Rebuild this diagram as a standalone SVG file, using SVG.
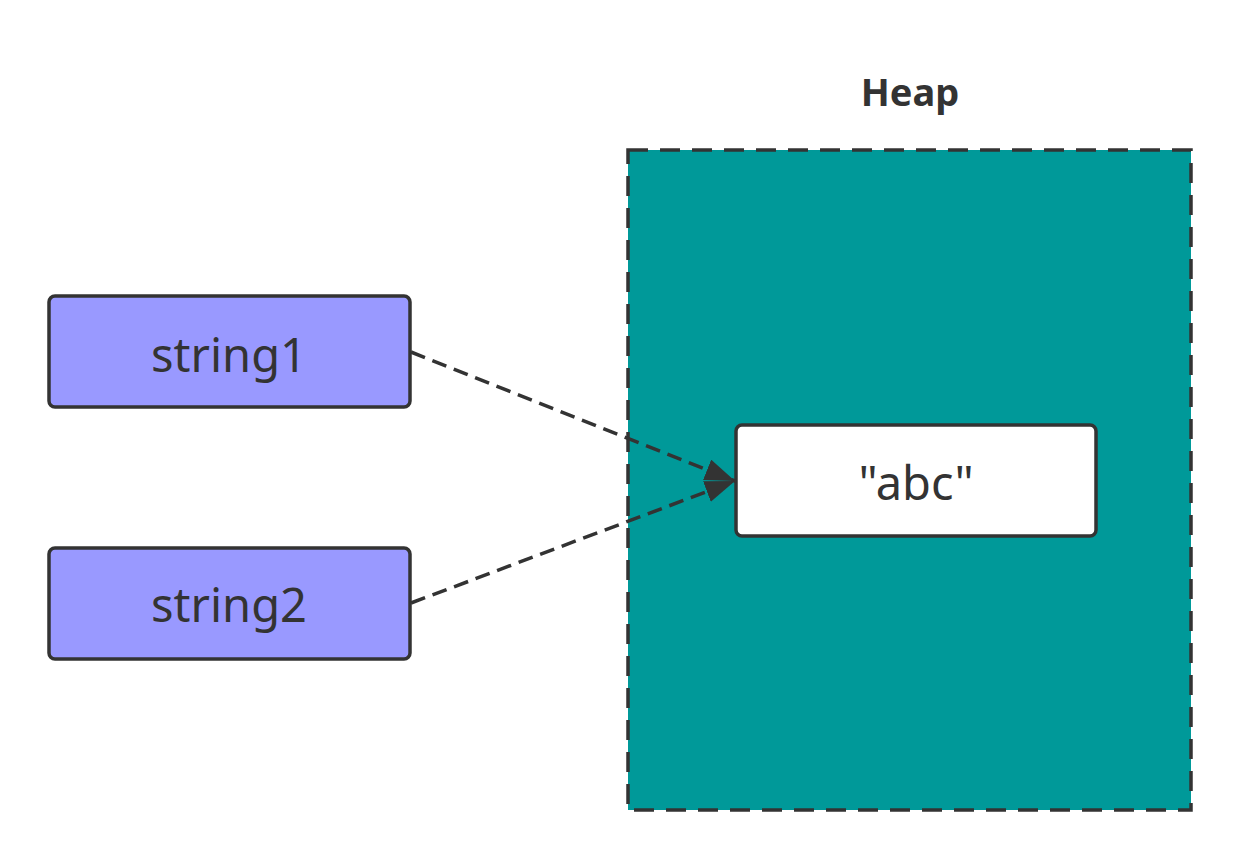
<svg xmlns="http://www.w3.org/2000/svg" width="1242" height="862" viewBox="0 0 1242 862">
  <style>
    .label { font-family: "Noto Sans", "Liberation Sans", sans-serif; fill: #333333; text-anchor: middle; }
    .var { fill: #9999FF; stroke: #333333; stroke-width: 3.5; }
    .obj { fill: #FFFFFF; stroke: #333333; stroke-width: 3.5; }
    .link { fill: none; stroke: #333333; stroke-width: 3.5; stroke-dasharray: 15 8; }
  </style>
  <defs>
    <marker id="arrow" markerUnits="userSpaceOnUse" markerWidth="32" markerHeight="24" refX="30" refY="11" orient="auto">
      <path d="M0,0 L30,11 L0,22 Z" fill="#333333"/>
    </marker>
  </defs>
  <rect width="1242" height="862" fill="#FFFFFF"/>

  <!-- heap region -->
  <g id="heap">
    <rect x="628" y="150" width="563" height="660" fill="#009999" stroke="#333333" stroke-width="3.5" stroke-dasharray="20 12"/>
    <text class="label" x="910" y="106" font-size="38" font-weight="bold">Heap</text>
  </g>

  <!-- string object -->
  <g id="abc">
    <rect class="obj" x="736" y="425" width="360" height="111" rx="6"/>
    <text class="label" x="916" y="500" font-size="47">"abc"</text>
  </g>

  <!-- reference variables -->
  <g id="string1">
    <rect class="var" x="49" y="296" width="361" height="111" rx="6"/>
    <text class="label" x="229" y="372" font-size="47">string1</text>
  </g>
  <g id="string2">
    <rect class="var" x="49" y="548" width="361" height="111" rx="6"/>
    <text class="label" x="229" y="622" font-size="47">string2</text>
  </g>

  <!-- references -->
  <g id="connectors">
    <path class="link" d="M411,352 L735,481" marker-end="url(#arrow)"/>
    <path class="link" d="M411,603 L735,481" marker-end="url(#arrow)"/>
  </g>
</svg>
